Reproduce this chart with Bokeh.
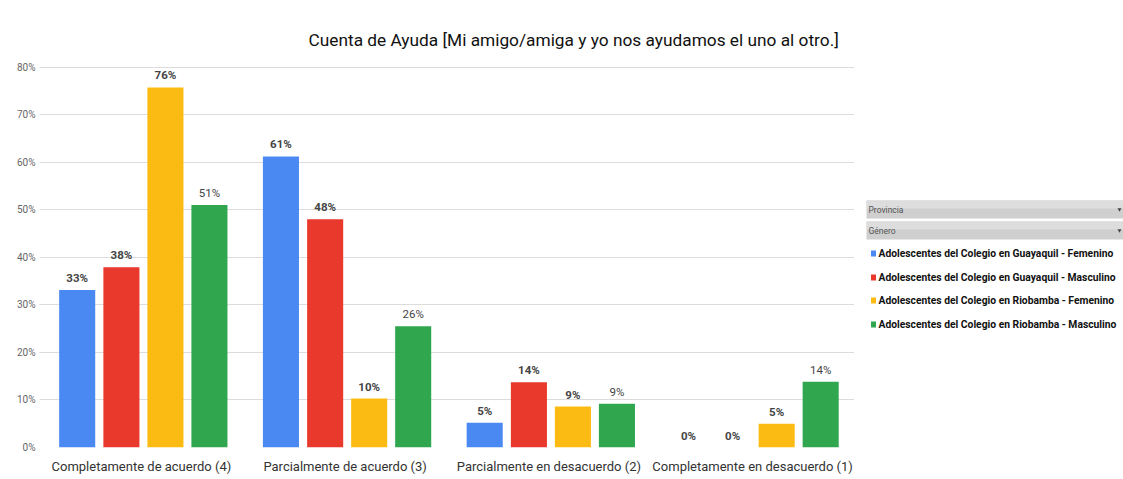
from bokeh.plotting import figure
from bokeh.models import (ColumnDataSource, FactorRange, Range1d, NumeralTickFormatter,
                          FixedTicker, Title)
from bokeh.transform import dodge
from bokeh.layouts import row
from bokeh.core.properties import value
from bokeh.embed import file_html
from bokeh.resources import INLINE

FONT = "Roboto"

title_text = "Cuenta de Ayuda [Mi amigo/amiga  y yo nos ayudamos el uno al otro.]"
categories = ["Completamente de acuerdo (4)", "Parcialmente de acuerdo (3)",
              "Parcialmente en desacuerdo (2)", "Completamente en desacuerdo (1)"]
series_names = ["Adolescentes del Colegio en Guayaquil - Femenino",
                "Adolescentes del Colegio en Guayaquil - Masculino",
                "Adolescentes del Colegio en Riobamba - Femenino",
                "Adolescentes del Colegio en Riobamba - Masculino"]
gye_fem = [0.331, 0.612, 0.052, 0.0]
gye_mas = [0.379, 0.480, 0.137, 0.0]
rio_fem = [0.757, 0.103, 0.086, 0.050]
rio_mas = [0.510, 0.255, 0.092, 0.138]
series_values = [gye_fem, gye_mas, rio_fem, rio_mas]
filter_headers = ["Provincia", "Género"]
y_ticks = [0, 0.1, 0.2, 0.3, 0.4, 0.5, 0.6, 0.7, 0.8]

colors = ["#4a88f2", "#e9392c", "#fbbb12", "#30a64f"]
label_styles = ["bold", "bold", "bold", "normal"]
offsets = [-0.315, -0.098, 0.118, 0.334]
bar_w = 0.177

src = ColumnDataSource(dict(
    cat=categories,
    **{f"s{i}": v for i, v in enumerate(series_values)},
    **{f"l{i}": [f"{round(x * 100)}%" for x in v] for i, v in enumerate(series_values)},
))

TOP, BOTTOM = 57, 32

p = figure(x_range=FactorRange(*categories), y_range=Range1d(0, 0.82),
           width=854, height=479, output_backend="svg", toolbar_location=None,
           min_border_left=39, min_border_right=0, min_border_top=TOP, min_border_bottom=BOTTOM)
p.outline_line_color = None
p.background_fill_color = "white"
p.border_fill_color = "white"
p.x_range.range_padding = 0
p.x_range.group_padding = 0

for i in range(4):
    p.vbar(x=dodge("cat", offsets[i], range=p.x_range), top=f"s{i}", width=bar_w,
           source=src, fill_color=colors[i], line_color=None)
    p.text(x=dodge("cat", offsets[i], range=p.x_range), y=f"s{i}", text=f"l{i}", source=src,
           text_align="center", text_baseline="bottom", y_offset=-5,
           text_font=value(FONT), text_font_size="11.5px", text_font_style=label_styles[i],
           text_color="#444444")

p.yaxis.ticker = FixedTicker(ticks=y_ticks)
p.yaxis.formatter = NumeralTickFormatter(format="0%")
p.yaxis.axis_line_color = None
p.yaxis.major_tick_line_color = None
p.yaxis.minor_tick_line_color = None
p.yaxis.major_tick_out = 0
p.yaxis.major_tick_in = 0
p.yaxis.major_label_standoff = 4
p.yaxis.major_label_text_font = FONT
p.yaxis.major_label_text_font_size = "10px"
p.yaxis.major_label_text_color = "#666666"

p.xaxis.axis_line_color = None
p.xaxis.major_tick_line_color = None
p.xaxis.minor_tick_line_color = None
p.xaxis.major_tick_out = 0
p.xaxis.major_tick_in = 0
p.xaxis.major_label_standoff = 11
p.xaxis.major_label_text_font = FONT
p.xaxis.major_label_text_font_size = "13px"
p.xaxis.major_label_text_color = "#333333"

p.xgrid.grid_line_color = None
p.ygrid.ticker = FixedTicker(ticks=y_ticks)
p.ygrid.grid_line_color = "#dcdcdc"
p.ygrid.grid_line_width = 1

p.title = Title(text=title_text, align="left", offset=269, text_font=FONT, standoff=15,
                text_font_size="17.3px", text_font_style="normal", text_color="#111111")

# Legend / filter panel to the right of the chart; its frame is aligned with the
# chart's frame, so its ranges are expressed in page pixels (y from 447 up to 57)
p2 = figure(x_range=Range1d(854, 1123), y_range=Range1d(479 - BOTTOM, TOP), width=269, height=479,
            output_backend="svg", toolbar_location=None, title=None,
            min_border_left=0, min_border_right=0, min_border_top=TOP, min_border_bottom=BOTTOM)
p2.axis.visible = False
p2.grid.grid_line_color = None
p2.outline_line_color = None

hdr_top = [200, 221]
hdr_bot = [218, 239]
hdr_mid = [(a + b) / 2 for a, b in zip(hdr_top, hdr_bot)]
p2.quad(left=866, right=1130, top=hdr_top, bottom=hdr_bot, fill_color="#cfcfcf", line_color=None)
p2.quad(left=866, right=1130, top=hdr_top, bottom=[t + 8 for t in hdr_top], fill_color="#dddddd", line_color=None)
p2.text(x=868, y=hdr_mid, text=filter_headers,
        text_baseline="middle", text_align="left", text_font=value(FONT),
        text_font_size="8.5px", text_color="#555555")
p2.scatter(x=1119, y=hdr_mid, marker="inverted_triangle", size=4,
           fill_color="#444444", line_color=None)

leg_y = [253, 277, 300, 324]
p2.rect(x=873, y=leg_y, width=5, height=6, fill_color=colors, line_color=None)
p2.text(x=878, y=leg_y, text=series_names, text_baseline="middle", text_align="left",
        text_font=value(FONT), text_font_size="10.3px", text_font_style="bold",
        text_color="#111111")

layout = row(p, p2, spacing=0)
open("out.html", "w").write(file_html(layout, INLINE))
